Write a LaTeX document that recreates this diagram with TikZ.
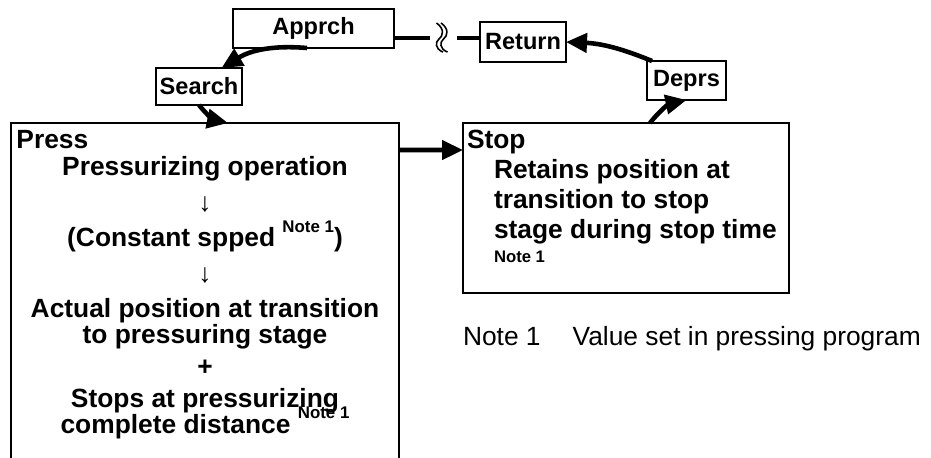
\documentclass[tikz,border=0pt]{standalone}
\usepackage{fontspec}
\setmainfont{Liberation Sans}
\usetikzlibrary{arrows.meta, positioning}

\newcommand{\noteone}{\smash{\raisebox{8.5pt}{\fontsize{9.6}{10}\selectfont Note 1}}}
\newcommand{\downarr}{{\mdseries ↓}}

\begin{document}
\begin{tikzpicture}[
    x=1cm, y=1cm,
    every node/.style={inner sep=0pt, outer sep=0pt},
    stage/.style={
      rectangle, draw, line width=1.1pt,
      font=\bfseries\fontsize{13.4}{16}\selectfont
    },
    panel/.style={rectangle, draw, line width=1.1pt},
    head/.style={anchor=base west, font=\bfseries\fontsize{15}{18}\selectfont},
    body/.style={font=\bfseries\fontsize{15}{14.8}\selectfont},
    flow/.style={-{Triangle[length=0.42cm, width=0.38cm]}, line width=2.6pt},
    link/.style={line width=2.6pt}
  ]

    \useasboundingbox (0,0) rectangle (18.62,-9.14);
    \clip (0,0) rectangle (18.62,-9.14);

    % Small stage boxes
    \node[stage, minimum width=3.22cm, minimum height=0.78cm] (apprch) at (6.27,-0.57) {Apprch};
    \node[stage, minimum width=1.72cm, minimum height=0.80cm] (return) at (10.46,-0.84) {Return};
    \node[stage, minimum width=1.72cm, minimum height=0.74cm] (search) at (3.98,-1.73) {Search};
    \node[stage, minimum width=1.58cm, minimum height=0.78cm] (deprs)  at (13.73,-1.61) {Deprs};

    % Press panel (base anchor = last line)
    \node[panel, minimum width=7.76cm, minimum height=7.14cm] (press) at (4.10,-6.03) {};
    \node[head] (presstitle) at (0.33,-2.96) {Press};
    \node[body, align=center, anchor=base] (pressbody) at (4.10,-8.66) {%
      Pressurizing operation\\[0.19cm]
      \downarr\\[0.19cm]
      (Constant spped \noteone)\\[0.19cm]
      \downarr\\[0.19cm]
      Actual position at transition\\
      to pressuring stage\\[0.11cm]
      +\\[0.11cm]
      Stops at pressurizing\\
      complete distance \noteone
    };

    % Stop panel
    \node[panel, minimum width=6.52cm, minimum height=3.40cm] (stop) at (12.52,-4.16) {};
    \node[head] (stoptitle) at (9.34,-2.96) {Stop};
    \node[body, align=left, anchor=base west, font=\bfseries\fontsize{15}{17.07}\selectfont] (stopbody) at (9.88,-5.24) {%
      Retains position at\\
      transition to stop\\
      stage during stop time\\[-0.12cm]
      {\fontsize{9.5}{10}\selectfont Note 1}
    };

    % Note
    \node[anchor=base west, font=\fontsize{15}{18}\selectfont] (note) at (9.26,-6.90)
      {Note 1\hspace{0.64cm}Value set in pressing program};

    % Cycle
    \draw[flow] ([xshift=-0.13cm]apprch.south) to[bend right=18] ([xshift=0.45cm]search.north);
    \draw[flow] (search.south) to[bend right=20] ([xshift=0.46cm]press.north);
    \draw[flow] ([yshift=-0.54cm]press.north east) -- ([yshift=-0.54cm]stop.north west);
    \draw[flow] ([xshift=0.48cm]stop.north) to[bend left=20] (deprs.south);
    \draw[flow] ([xshift=0.1cm]deprs.north west) to[bend right=10] (return.east);

    % Break between Apprch and Return
    \coordinate (brkL) at (8.60,-0.76);
    \coordinate (brkR) at (9.14,-0.76);
    \draw[link] (apprch.east |- brkL) -- (brkL);
    \draw[link] (brkR) -- (return.west |- brkR);
    \foreach \dx in {0,0.09}
      \draw[line width=0.9pt, xshift=\dx cm] (8.73,-0.46) .. controls (8.90,-0.58) and (8.86,-0.72) .. (8.78,-0.78)
        .. controls (8.70,-0.84) and (8.70,-0.98) .. (8.86,-1.04);

  \end{tikzpicture}
\end{document}
